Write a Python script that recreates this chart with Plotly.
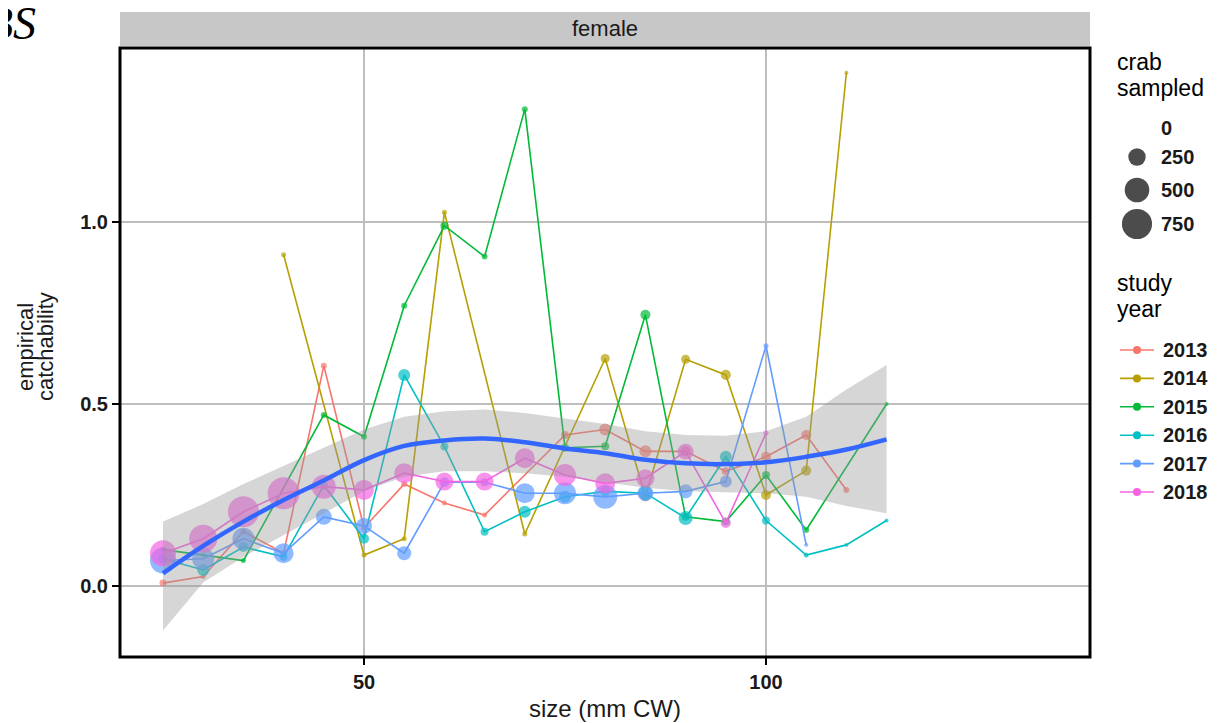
import plotly.graph_objects as go

# ---------------- data ----------------
YEARS = ["2013", "2014", "2015", "2016", "2017", "2018"]
COLORS = ["#F8766D", "#B79F00", "#00BA38", "#00BFC4", "#619CFF", "#F564E3"]

x_2013 = [25, 30, 35, 40, 45, 50, 55, 60, 65, 75, 80, 85, 90, 95, 100, 105, 110]
q_2013 = [0.008, 0.026, 0.15, 0.09, 0.605, 0.16, 0.28, 0.228, 0.195, 0.415, 0.43, 0.37, 0.37, 0.315, 0.355, 0.415, 0.264]
n_2013 = [40, 21, 30, 30, 30, 30, 30, 21, 21, 53, 119, 119, 83, 53, 83, 83, 30]

x_2014 = [40, 50, 55, 60, 70, 80, 85, 90, 95, 100, 105, 110]
q_2014 = [0.91, 0.085, 0.13, 1.027, 0.143, 0.625, 0.245, 0.623, 0.58, 0.25, 0.317, 1.41]
n_2014 = [21, 21, 21, 21, 21, 67, 67, 67, 83, 83, 83, 13]

x_2015 = [25, 30, 35, 45, 50, 55, 60, 65, 70, 75, 80, 85, 90, 95, 100, 105, 115]
q_2015 = [0.10, 0.085, 0.07, 0.47, 0.41, 0.77, 0.99, 0.905, 1.31, 0.38, 0.384, 0.745, 0.19, 0.177, 0.305, 0.154, 0.5]
n_2015 = [21, 13, 21, 30, 30, 30, 53, 30, 30, 53, 53, 83, 53, 53, 53, 30, 13]

x_2016 = [25, 30, 35, 40, 45, 50, 55, 60, 65, 70, 75, 80, 85, 90, 95, 100, 105, 110, 115]
q_2016 = [0.075, 0.044, 0.107, 0.08, 0.277, 0.13, 0.58, 0.383, 0.149, 0.204, 0.245, 0.26, 0.255, 0.187, 0.355, 0.18, 0.085, 0.113, 0.18]
n_2016 = [83, 119, 83, 53, 53, 83, 119, 53, 53, 119, 119, 83, 162, 162, 119, 53, 21, 13, 13]

x_2017 = [25, 30, 35, 40, 45, 50, 55, 60, 65, 70, 75, 80, 85, 90, 95, 100, 105]
q_2017 = [0.07, 0.075, 0.13, 0.09, 0.19, 0.165, 0.09, 0.285, 0.285, 0.255, 0.255, 0.245, 0.255, 0.26, 0.287, 0.66, 0.113]
n_2017 = [558, 400, 400, 330, 211, 211, 162, 83, 53, 330, 400, 475, 211, 162, 119, 21, 13]

x_2018 = [25, 30, 35, 40, 45, 50, 55, 60, 65, 70, 75, 80, 85, 90, 95, 100]
q_2018 = [0.09, 0.13, 0.204, 0.255, 0.273, 0.264, 0.31, 0.287, 0.287, 0.351, 0.305, 0.282, 0.296, 0.369, 0.173, 0.42]
n_2018 = [558, 647, 793, 845, 475, 330, 330, 267, 267, 330, 400, 330, 267, 211, 83, 21]

# loess smooth with confidence band
smooth_x = [25, 30, 35, 40, 45, 50, 55, 60, 65, 70, 75, 80, 85, 90, 95, 100, 105, 110, 115]
smooth_y = [0.035, 0.11, 0.177, 0.236, 0.29, 0.346, 0.385, 0.40, 0.405, 0.395, 0.378, 0.365, 0.347, 0.337, 0.335, 0.34, 0.355, 0.375, 0.403]
smooth_hi = [0.177, 0.225, 0.28, 0.33, 0.38, 0.43, 0.465, 0.48, 0.485, 0.475, 0.46, 0.445, 0.425, 0.415, 0.413, 0.425, 0.465, 0.54, 0.607]
smooth_lo = [-0.122, 0.01, 0.08, 0.14, 0.2, 0.26, 0.3, 0.315, 0.315, 0.31, 0.3, 0.285, 0.27, 0.26, 0.258, 0.255, 0.245, 0.22, 0.2]

X_TICKS = [50, 100]
Y_TICKS = [0.0, 0.5, 1.0]
Y_TICKTEXT = ["0.0", "0.5", "1.0"]
SIZE_LEGEND = [0, 250, 500, 750]

SERIES = [
    (x_2013, q_2013, n_2013),
    (x_2014, q_2014, n_2014),
    (x_2015, q_2015, n_2015),
    (x_2016, q_2016, n_2016),
    (x_2017, q_2017, n_2017),
    (x_2018, q_2018, n_2018),
]

# ---------------- geometry ----------------
# page body has an 8px margin; work in screenshot pixels and convert
OFF = 8
FONT = "Liberation Sans, Arial, sans-serif"
SIZEREF = 1.65
W, H = 1212, 715
ML, MR, MT, MB = 112, 5, 4, 66
PW, PH = W - ML - MR, H - MT - MB
PANEL_L, PANEL_R, PANEL_T, PANEL_B = 120, 1090, 48, 657   # screenshot px
STRIP_T, STRIP_B = 12, 46
LEG_L = 1100


def px_x(p):
    return (p - OFF - ML) / PW


def px_y(p):
    return (H - MB - (p - OFF)) / PH


fig = go.Figure()

for (xs, ys, ns), col, yr in zip(SERIES, COLORS, YEARS):
    fig.add_trace(go.Scatter(
        x=xs, y=ys, mode="lines+markers", name=yr, showlegend=False,
        line=dict(color=col, width=1.6),
        marker=dict(size=ns, sizemode="area", sizeref=SIZEREF, sizemin=1.5,
                    color=col, line=dict(width=0)),
        xaxis="x", yaxis="y",
    ))

# ribbon
fig.add_trace(go.Scatter(x=smooth_x, y=smooth_hi, mode="lines", line=dict(width=0),
                         showlegend=False, hoverinfo="skip"))
fig.add_trace(go.Scatter(x=smooth_x, y=smooth_lo, mode="lines", line=dict(width=0),
                         fill="tonexty", fillcolor="rgba(153,153,153,0.4)",
                         showlegend=False, hoverinfo="skip"))
fig.add_trace(go.Scatter(x=smooth_x, y=smooth_y, mode="lines",
                         line=dict(color="#3366FF", width=4.5, shape="spline"),
                         showlegend=False))

# ---------------- manual legend (on hidden screenshot-pixel axes) ----------------
LEG_X_KEY = 1137
LEG_X_TXT = 1159
SIZE_KEY_Y = [128, 157, 190, 224]
YEAR_KEY_Y0, YEAR_KEY_STEP = 350, 28.4
LEG_FONT = dict(family=FONT, size=20, color="#1a1a1a", weight="bold")
TITLE_FONT = dict(family=FONT, size=23, color="black")

fig.add_trace(go.Scatter(
    x=[LEG_X_KEY] * len(SIZE_LEGEND), y=SIZE_KEY_Y, mode="markers",
    marker=dict(size=SIZE_LEGEND, sizemode="area", sizeref=SIZEREF, sizemin=1.5,
                color="black", line=dict(width=0)),
    xaxis="x2", yaxis="y2", showlegend=False, hoverinfo="skip"))

annotations = []
for v, yy in zip(SIZE_LEGEND, SIZE_KEY_Y):
    annotations.append(dict(x=LEG_X_TXT, y=yy, xref="x2", yref="y2", text=str(v),
                            showarrow=False, xanchor="left", yanchor="middle",
                            font=LEG_FONT))

for i, (yr, col) in enumerate(zip(YEARS, COLORS)):
    yy = YEAR_KEY_Y0 + i * YEAR_KEY_STEP
    fig.add_trace(go.Scatter(
        x=[LEG_X_KEY - 17, LEG_X_KEY + 17], y=[yy, yy], mode="lines",
        line=dict(color=col, width=1.6), xaxis="x2", yaxis="y2",
        showlegend=False, hoverinfo="skip"))
    fig.add_trace(go.Scatter(
        x=[LEG_X_KEY], y=[yy], mode="markers", marker=dict(color=col, size=8),
        xaxis="x2", yaxis="y2", showlegend=False, hoverinfo="skip"))
    annotations.append(dict(x=LEG_X_TXT + 2, y=yy, xref="x2", yref="y2", text=yr,
                            showarrow=False, xanchor="left", yanchor="middle",
                            font=LEG_FONT))

for txt, yy in [("crab", 62), ("sampled", 88), ("study", 283), ("year", 309)]:
    annotations.append(dict(x=1115, y=yy, xref="x2", yref="y2", text=txt, showarrow=False,
                            xanchor="left", yanchor="middle", font=TITLE_FONT))

annotations += [
    # strip label
    dict(x=0.5, xref="x domain", y=px_y((STRIP_T + STRIP_B) / 2), yref="paper",
         text="female", showarrow=False, xanchor="center", yanchor="middle",
         font=dict(family=FONT, size=22, color="#1a1a1a")),
    # axis titles
    dict(x=0.5, xref="x domain", y=px_y(708), yref="paper", text="size (mm CW)",
         showarrow=False, xanchor="center", yanchor="middle",
         font=dict(family=FONT, size=24, color="#1a1a1a")),
    dict(x=px_x(25), xref="paper", y=px_y(347), yref="paper",
         text="empirical", textangle=-90, showarrow=False,
         xanchor="center", yanchor="middle",
         font=dict(family=FONT, size=22, color="#1a1a1a")),
    dict(x=px_x(45), xref="paper", y=px_y(347), yref="paper",
         text="catchability", textangle=-90, showarrow=False,
         xanchor="center", yanchor="middle",
         font=dict(family=FONT, size=22, color="#1a1a1a")),
    # corner label (partly outside the page, as in the source)
    dict(x=px_x(-17), xref="paper", y=px_y(-4), yref="paper", text="<i>BS</i>",
         showarrow=False, xanchor="left", yanchor="top",
         font=dict(family="Liberation Serif, DejaVu Serif, serif", size=46, color="black")),
]

shapes = [
    dict(type="rect", xref="x domain", yref="paper", x0=0, x1=1,
         y0=px_y(STRIP_B), y1=px_y(STRIP_T),
         fillcolor="#c7c7c7", line=dict(width=0), layer="below"),
    dict(type="rect", xref="x domain", yref="y domain", x0=0, x1=1, y0=0, y1=1,
         line=dict(color="black", width=3), layer="above"),
]

axis_common = dict(
    showgrid=True, gridcolor="#bebebe", gridwidth=1.5, zeroline=False,
    showline=False, ticks="outside", ticklen=7, tickwidth=1.5, tickcolor="black",
    tickfont=dict(family=FONT, size=20, color="#1a1a1a", weight="bold"),
)

fig.update_layout(
    width=W, height=H,
    margin=dict(l=ML, r=MR, t=MT, b=MB),
    paper_bgcolor="white", plot_bgcolor="white",
    showlegend=False,
    xaxis=dict(domain=[px_x(PANEL_L), px_x(PANEL_R)], range=[19.65, 140.3],
               tickvals=X_TICKS, ticktext=[str(v) for v in X_TICKS], **axis_common),
    yaxis=dict(domain=[px_y(PANEL_B), px_y(PANEL_T)], range=[-0.195, 1.478],
               tickvals=Y_TICKS, ticktext=Y_TICKTEXT, **axis_common),
    xaxis2=dict(domain=[px_x(LEG_L), 1.0], range=[LEG_L, OFF + W - MR],
                visible=False, anchor="y2"),
    yaxis2=dict(domain=[0, 1], range=[OFF + H - MB, OFF + MT], visible=False, anchor="x2"),
    annotations=annotations,
    shapes=shapes,
)

fig.write_html("out.html")
